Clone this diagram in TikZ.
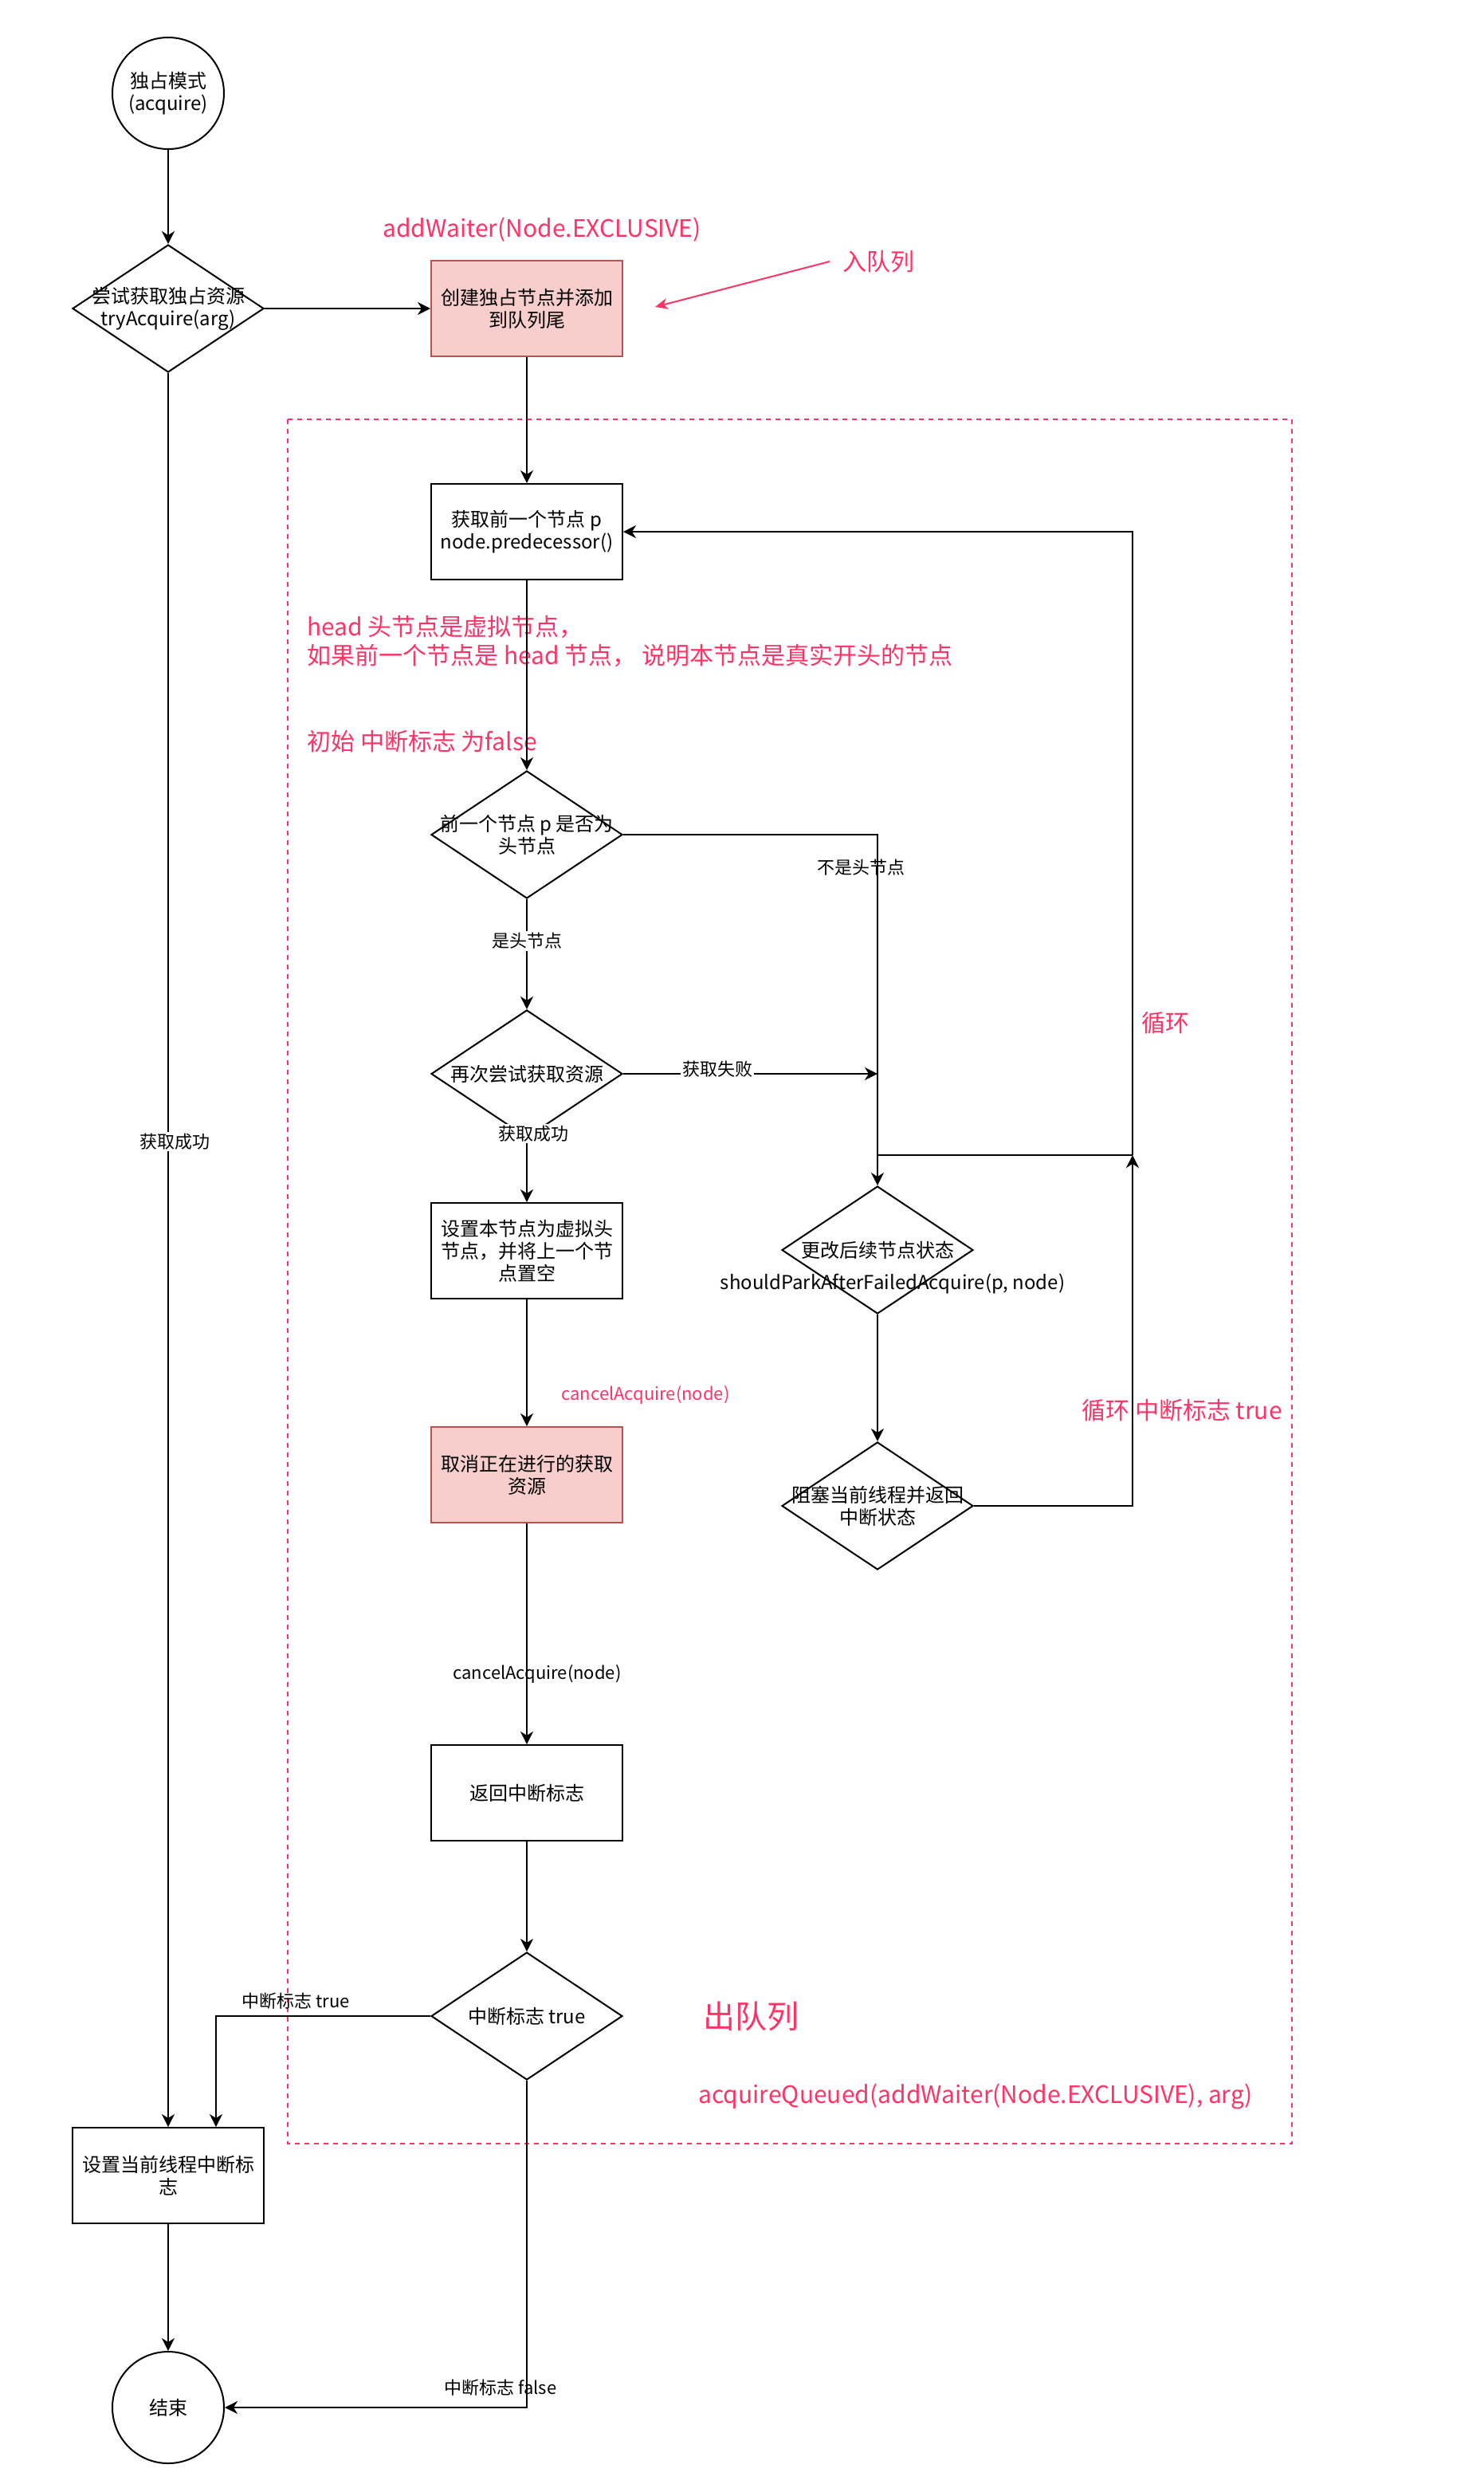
\documentclass[tikz,border=0pt]{standalone}
\usepackage{fontspec}
\setmainfont{Noto Sans CJK SC}
\usetikzlibrary{shapes.geometric,arrows.meta}
\definecolor{notered}{HTML}{FF3366}
\definecolor{pinkfill}{HTML}{F8CECC}
\definecolor{pinkline}{HTML}{B85450}
\tikzset{
  txt/.style={font=\fontsize{12}{14}\selectfont,align=center},
  process/.style={draw,rectangle,line width=1pt,minimum width=120pt,minimum height=60pt,inner sep=0pt,txt},
  cancelbox/.style={process,fill=pinkfill,draw=pinkline},
  decision/.style={draw,diamond,line width=1pt,minimum width=120pt,minimum height=80pt,inner sep=0pt},
  terminal/.style={draw,circle,line width=1pt,minimum size=70pt,inner sep=0pt,txt},
  flow/.style={line width=1pt,-{Stealth[length=8pt,width=8pt,inset=2.5pt]}},
  elabel/.style={font=\fontsize{11}{13}\selectfont,inner sep=1pt},
  redtext/.style={text=notered,font=\fontsize{15}{18}\selectfont,inner sep=0pt},
}

\begin{document}
\begin{tikzpicture}[x=1pt,y=-1pt]
        \useasboundingbox (0,0) rectangle (931,1560.5);
        \draw[notered,line width=1pt,dash pattern=on 3pt off 3pt] (180.5,263) rectangle (810.5,1344.5);

        \node[terminal] (start) at (105.5,58.5) {独占模式\\(acquire)};
        \node[decision,label={[txt]center:{尝试获取独占资源\\tryAcquire(arg)}}] (try) at (105.5,193.5) {};
        \node[cancelbox] (enqueue) at (330.5,193.5) {创建独占节点并添加\\到队列尾};
        \node[process] (prev) at (330.5,333.5) {获取前一个节点 p\\node.predecessor()};
        \node[decision,label={[txt]center:{前一个节点 p 是否为\\头节点}}] (ishead) at (330.5,523.5) {};
        \node[decision,label={[txt]center:{再次尝试获取资源}}] (retry) at (330.5,673.5) {};
        \node[process] (sethead) at (330.5,784.5) {设置本节点为虚拟头\\节点，并将上一个节\\点置空};
        \node[decision,label={[txt]center:{更改后续节点状态}}] (shouldpark) at (550.5,784) {};
        \node[txt] (parkname) at (560,805) {shouldParkAfterFailedAcquire(p, node)};
        \node[decision,label={[txt]center:{阻塞当前线程并返回\\中断状态}}] (park) at (550.5,944.5) {};
        \node[cancelbox] (cancel) at (330.5,925) {取消正在进行的获取\\资源};
        \node[process] (ret) at (330.5,1124.5) {返回中断标志};
        \node[decision,label={[txt]center:{中断标志 true}}] (flag) at (330.5,1264.5) {};
        \node[process] (interrupt) at (105.5,1364.5) {设置当前线程中断标\\志};
        \node[terminal] (end) at (105.5,1510) {结束};

        \coordinate (fork) at (550.5,724.5);
        \coordinate (join) at (710.5,724.5);
        \coordinate (failend) at (550.5,673.5);
        \coordinate (enqtip) at (411,192.5);

        \node[redtext] (addwaiter) at (340,144) {addWaiter(Node.EXCLUSIVE)};
        \node[redtext,anchor=west] (enq) at (528.5,164) {入队列};
        \node[redtext,anchor=west,align=left] (headnote) at (192.5,402) {head 头节点是虚拟节点，\\如果前一个节点是 head 节点， 说明本节点是真实开头的节点};
        \node[redtext,anchor=west] (initnote) at (192.5,465) {初始 中断标志 为false};
        \node[redtext,anchor=west] (loopnote) at (716,641.5) {循环};
        \node[redtext,anchor=west] (loopflag) at (678.5,884.5) {循环 中断标志 true};
        \node[redtext,font=\fontsize{11}{13}\selectfont] (cancelnote) at (405,875) {cancelAcquire(node)};
        \node[redtext,font=\fontsize{20}{24}\selectfont] (dequeue) at (471,1264.5) {出队列};
        \node[redtext,anchor=west] (queued) at (438,1315) {acquireQueued(addWaiter(Node.EXCLUSIVE), arg)};

        \draw[notered,line width=1pt,-{Stealth[length=8pt,width=7pt,inset=2.5pt]}] ([xshift=-8pt]enq.west) -- (enqtip);

        \draw[flow] (start) -- (try);
        \draw[flow] (try) -- (enqueue);
        \draw[flow] (enqueue) -- (prev);
        \draw[flow] (prev) -- (ishead);
        \draw[flow] (ishead) -- node[elabel,fill=white,pos=.38] (lyes) {是头节点} (retry);
        \draw[flow] (ishead.east) -| (shouldpark.north);
        \node[elabel] (lnothead) at (540,544) {不是头节点};
        \draw[flow] (retry.east) -- node[elabel,fill=white,pos=.37,yshift=3pt] (lfail) {获取失败} (failend);
        \draw[flow] (retry) -- (sethead);
        \node[elabel,fill=white] (lsucc) at (334.5,711) {获取成功};
        \draw[line width=1pt] (fork) -- (join);
        \draw[flow] (join) |- (prev.east);
        \draw[flow] (shouldpark) -- (park);
        \draw[flow] (park.east) -| (join);
        \draw[flow] (sethead) -- (cancel);
        \draw[flow] (cancel) -- (ret);
        \node[elabel] (lcancel) at (337,1050) {cancelAcquire(node)};
        \draw[flow] (ret) -- (flag);
        \draw[flow] (flag.west) -| ([xshift=30pt]interrupt.north);
        \node[elabel] (ltrue) at (185.5,1255) {中断标志 true};
        \draw[flow] (try) -- (interrupt);
        \node[elabel,fill=white] (lgot) at (109.5,716) {获取成功};
        \draw[flow] (interrupt) -- (end);
        \draw[flow] (flag.south) |- (end.east);
        \node[elabel] (lfalse) at (314,1497.5) {中断标志 false};
\end{tikzpicture}
\end{document}
